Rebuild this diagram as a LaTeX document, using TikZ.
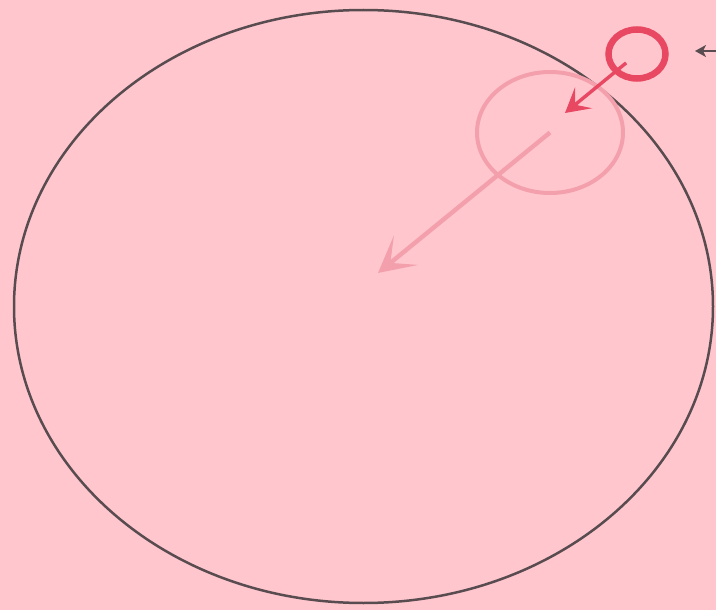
\documentclass[tikz,border=0pt]{standalone}
\usepackage{xcolor}
\usepackage{tikz}
\usetikzlibrary{arrows.meta}

\definecolor{bgpink}{RGB}{255,199,205}
\definecolor{rimgray}{RGB}{88,76,80}
\definecolor{dropred}{RGB}{232,72,98}
\definecolor{ghostpink}{RGB}{243,160,172}

\begin{document}
\begin{tikzpicture}[
    x=1pt,y=-1pt,
    rim/.style={draw=rimgray,line width=2.5pt},
    drop/.style={draw=dropred,line width=6.5pt},
    ghost/.style={draw=ghostpink,line width=4pt},
    pull/.style={-{Stealth[length=24pt,width=27pt,inset=11pt]},draw=dropred,line width=3.4pt,shorten <=14pt},
    fall/.style={-{Stealth[length=36pt,width=38pt,inset=20pt]},draw=ghostpink,line width=4.4pt},
    hint/.style={-{Stealth[length=11pt,width=12pt,inset=3pt]},draw=rimgray,line width=2.4pt}
  ]
    \fill[bgpink] (0,0) rectangle (716,610);
    \useasboundingbox (0,0) rectangle (716,610);

    \coordinate (centre) at (363.5,306.5);
    \coordinate (ghostc) at (550,132.5);
    \coordinate (dropc) at (637,54);
    \coordinate (redtip) at (565,113);
    \coordinate (ghosttip) at (378,273);
    \coordinate (hinttip) at (695,51);
    \coordinate (hintend) at (717,51);

    \draw[rim] (centre) ellipse [x radius=349.5pt,y radius=296.5pt];
    \draw[ghost] (ghostc) ellipse [x radius=73pt,y radius=60.5pt];
    \draw[fall] (ghostc) -- (ghosttip);
    \draw[drop] (dropc) ellipse [x radius=28.5pt,y radius=24.5pt];
    \draw[pull] (dropc) -- (redtip);
    \draw[hint] (hintend) -- (hinttip);
  \end{tikzpicture}
\end{document}
